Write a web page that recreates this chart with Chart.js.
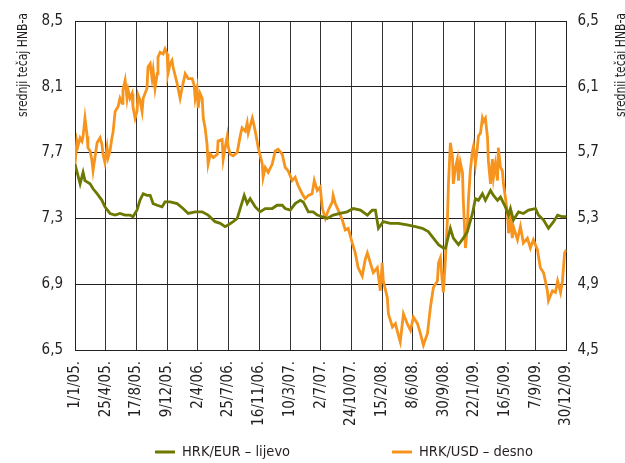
<!DOCTYPE html>
<html><head><meta charset="utf-8">
<script src="https://cdn.jsdelivr.net/npm/chart.js@4.4.1/dist/chart.umd.min.js"></script>
<style>html,body{margin:0;padding:0;background:#fff;}#wrap{width:625px;height:463px;position:relative;}</style>
</head><body><div id="wrap"><canvas id="c" width="625" height="463"></canvas></div>
<script>
const tickLabels=['1/1/05.','25/4/05.','17/8/05.','9/12/05.','2/4/06.','25/7/06.','16/11/06.','10/3/07.','2/7/07.','24/10/07.','15/2/08.','8/6/08.','30/9/08.','22/1/09.','16/5/09.','7/9/09.','30/12/09.'];
const tickDays=[0,114,228,342,456,570,684,798,912,1026,1140,1254,1368,1482,1596,1710,1824];
const leftTicks=[6.5,6.9,7.3,7.7,8.1,8.5];
const rightTicks=[4.5,4.9,5.3,5.7,6.1,6.5];
const axisTitle='srednji tečaj HNB-a';
const seriesNames=['HRK/EUR – lijevo','HRK/USD – desno'];

const eurDays=[0,19,30,37,56,67,82,100,111,130,
149,167,186,204,215,230,241,253,267,279,
290,305,323,334,353,379,401,420,446,472,
494,520,539,557,568,587,602,613,628,639,
650,669,687,706,732,750,769,780,799,817,
836,847,866,884,899,918,936,958,984,1010,
1033,1059,1085,1103,1115,1126,1144,1170,1200,1233,
1263,1289,1311,1330,1349,1367,1375,1393,1404,1423,
1441,1456,1475,1486,1497,1512,1523,1542,1553,1568,
1579,1597,1609,1616,1627,1646,1664,1683,1709,1720,
1739,1757,1776,1791,1809,1824];
const eurVals=[7.63,7.51,7.58,7.53,7.51,7.48,7.45,7.41,7.37,7.33,
7.32,7.33,7.32,7.32,7.31,7.35,7.41,7.45,7.44,7.44,
7.39,7.38,7.37,7.40,7.40,7.39,7.36,7.33,7.34,7.34,
7.32,7.28,7.27,7.25,7.26,7.28,7.30,7.36,7.44,7.39,
7.42,7.37,7.34,7.36,7.36,7.38,7.38,7.36,7.35,7.39,
7.41,7.40,7.34,7.34,7.32,7.31,7.30,7.32,7.33,7.34,
7.36,7.35,7.32,7.35,7.35,7.24,7.28,7.27,7.27,7.26,
7.25,7.24,7.22,7.18,7.14,7.12,7.12,7.24,7.18,7.14,
7.18,7.22,7.33,7.42,7.41,7.45,7.41,7.47,7.44,7.41,
7.43,7.37,7.32,7.36,7.29,7.34,7.33,7.35,7.36,7.32,
7.29,7.24,7.28,7.32,7.31,7.31];

const usdDays=[0,7,11,19,26,30,37,45,48,56,
63,67,74,82,93,100,104,111,119,123,
130,137,141,149,160,167,175,178,186,193,
197,204,212,215,223,230,234,241,249,253,
267,271,279,286,290,297,305,308,316,327,
334,342,345,353,360,364,379,390,397,409,
420,435,442,446,453,457,464,472,476,483,
490,494,502,513,528,531,546,550,557,565,
568,576,587,602,613,620,632,639,643,658,
661,669,680,695,698,706,717,732,743,754,
769,780,791,806,817,828,843,854,866,880,
888,899,910,918,929,940,955,958,966,977,
992,1003,1014,1029,1040,1051,1066,1077,1085,1096,
1107,1122,1133,1140,1144,1159,1163,1178,1189,1200,
1207,1219,1233,1245,1256,1271,1282,1293,1308,1319,
1330,1345,1349,1356,1363,1367,1375,1382,1386,1393,
1401,1404,1412,1419,1423,1430,1438,1441,1449,1456,
1460,1467,1475,1479,1486,1493,1497,1505,1512,1516,
1523,1531,1534,1542,1549,1553,1560,1568,1571,1579,
1586,1590,1597,1605,1609,1616,1623,1627,1642,1653,
1664,1679,1690,1701,1716,1727,1739,1753,1757,1772,
1783,1791,1802,1809,1817,1824];
const usdVals=[5.63,5.77,5.74,5.79,5.77,5.80,5.91,5.80,5.73,5.71,
5.65,5.59,5.67,5.76,5.79,5.75,5.69,5.64,5.73,5.67,
5.71,5.79,5.82,5.95,5.98,6.03,6.00,6.08,6.14,6.03,
6.08,6.03,6.06,5.98,5.91,5.95,6.05,6.02,5.95,6.03,
6.09,6.22,6.24,6.15,6.20,6.09,6.18,6.28,6.31,6.30,
6.33,6.30,6.18,6.24,6.26,6.22,6.12,6.03,6.09,6.18,
6.15,6.15,6.11,6.03,6.09,5.97,6.06,6.03,5.91,5.85,
5.75,5.63,5.69,5.67,5.69,5.77,5.78,5.66,5.73,5.80,
5.74,5.69,5.68,5.70,5.80,5.85,5.83,5.88,5.82,5.91,
5.89,5.83,5.73,5.63,5.55,5.61,5.58,5.63,5.71,5.72,
5.69,5.61,5.59,5.53,5.55,5.50,5.45,5.42,5.44,5.45,
5.53,5.47,5.49,5.36,5.30,5.35,5.40,5.44,5.39,5.35,
5.29,5.23,5.24,5.15,5.09,5.00,4.95,5.05,5.09,5.03,
4.97,5.00,4.86,5.03,4.92,4.82,4.72,4.64,4.66,4.59,
4.55,4.72,4.66,4.62,4.70,4.66,4.60,4.53,4.60,4.76,
4.88,4.92,5.03,5.06,4.92,4.85,5.06,5.29,5.51,5.76,
5.67,5.51,5.61,5.66,5.53,5.64,5.58,5.41,5.12,5.25,
5.41,5.59,5.71,5.74,5.63,5.73,5.80,5.82,5.91,5.89,
5.91,5.79,5.65,5.51,5.66,5.55,5.63,5.53,5.73,5.61,
5.59,5.51,5.43,5.33,5.21,5.29,5.18,5.25,5.17,5.25,
5.15,5.18,5.12,5.17,5.11,5.00,4.97,4.86,4.80,4.86,
4.85,4.92,4.85,4.92,5.09,5.11];

const FONT='"DejaVu Sans Condensed","Liberation Sans",sans-serif';
const GREEN='#6c7800', ORANGE='#f7941d', INK='#231f20';
const fmt=v=>v.toFixed(1).replace('.',',');

const titlePlugin={id:'titles',afterDraw(chart){
  const ctx=chart.ctx;ctx.save();ctx.fillStyle=INK;ctx.font='14px '+FONT;
  ctx.textAlign='right';ctx.textBaseline='alphabetic';
  [[27,13],[625,13]].forEach(([x,y])=>{ctx.save();ctx.translate(x,y);ctx.rotate(-Math.PI/2);ctx.scale(0.86,1);ctx.fillText(axisTitle,0,0);ctx.restore();});
  ctx.restore();
}};
const legendPlugin={id:'lg',afterDraw(chart){
  const ctx=chart.ctx;ctx.save();ctx.font='14.5px '+FONT;ctx.textBaseline='middle';ctx.fillStyle=INK;
  const y=452;
  [[GREEN,155,seriesNames[0]],[ORANGE,392,seriesNames[1]]].forEach(([c,x,t])=>{
    ctx.strokeStyle=c;ctx.lineWidth=3;ctx.beginPath();ctx.moveTo(x,y);ctx.lineTo(x+20,y);ctx.stroke();
    ctx.fillText(t,x+27,y);
  });
  ctx.restore();
}};

new Chart(document.getElementById('c'),{
  type:'line',
  data:{datasets:[
    {label:seriesNames[0],data:eurDays.map((d,i)=>({x:d,y:eurVals[i]})),yAxisID:'yL',borderColor:GREEN,borderWidth:2.8,pointRadius:0,tension:0},
    {label:seriesNames[1],data:usdDays.map((d,i)=>({x:d,y:usdVals[i]})),yAxisID:'yR',borderColor:ORANGE,borderWidth:2.8,pointRadius:0,tension:0}
  ]},
  options:{
    responsive:false,animation:false,devicePixelRatio:1,
    layout:{padding:{top:18,left:0,right:0,bottom:0}},
    plugins:{legend:{display:false},tooltip:{enabled:false}},
    scales:{
      x:{type:'linear',min:0,max:1824,
        afterBuildTicks:s=>{s.ticks=tickDays.map(v=>({value:v}));},
        afterFit:s=>{s.height=113;},
        grid:{color:'#333',lineWidth:1,drawTicks:false},
        border:{display:true,color:INK,width:1},
        ticks:{autoSkip:false,maxRotation:90,minRotation:90,padding:11,color:INK,font:{family:FONT,size:15},callback:(v,i)=>tickLabels[i]}
      },
      yL:{type:'linear',position:'left',min:6.5,max:8.5,
        afterBuildTicks:s=>{s.ticks=leftTicks.map(v=>({value:v}));},
        afterFit:s=>{s.width=75;},
        grid:{color:INK,lineWidth:1,drawTicks:false},
        border:{display:true,color:INK,width:1},
        ticks:{padding:12,color:INK,font:{family:FONT,size:15},callback:v=>fmt(v)}
      },
      yR:{type:'linear',position:'right',min:4.5,max:6.5,
        afterBuildTicks:s=>{s.ticks=rightTicks.map(v=>({value:v}));},
        afterFit:s=>{s.width=58.5;},
        grid:{display:false,drawTicks:false},
        border:{display:true,color:INK,width:1},
        ticks:{padding:11,color:INK,font:{family:FONT,size:15},callback:v=>fmt(v)}
      }
    }
  },
  plugins:[titlePlugin,legendPlugin]
});
</script></body></html>
